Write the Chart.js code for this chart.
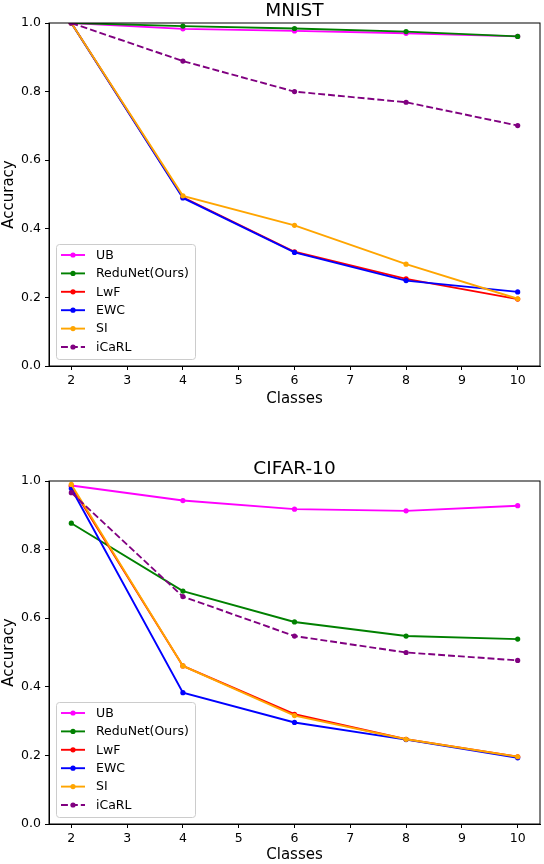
<!DOCTYPE html>
<html>
<head>
<meta charset="utf-8">
<script src="https://cdn.jsdelivr.net/npm/chart.js@4.4.0/dist/chart.umd.min.js"></script>
<style>
  html, body { margin: 0; padding: 0; background: #fff; }
  #wrap { width: 544px; height: 864px; position: relative; }
  canvas { display: block; }
</style>
</head>
<body>
<div id="wrap">
  <canvas id="mnist" width="544" height="432"></canvas>
  <canvas id="cifar" width="544" height="432"></canvas>
</div>
<script>
// data
const classes = [2, 4, 6, 8, 10];
const xTicks = [2, 3, 4, 5, 6, 7, 8, 9, 10];
const yTicks = [0, 0.2, 0.4, 0.6, 0.8, 1.0];
const methods = ['UB', 'ReduNet(Ours)', 'LwF', 'EWC', 'SI', 'iCaRL'];

const mnistUB      = [1.0, 0.983, 0.977, 0.970, 0.961];
const mnistReduNet = [1.0, 0.991, 0.984, 0.975, 0.961];
const mnistLwF     = [1.0, 0.492, 0.333, 0.254, 0.195];
const mnistEWC     = [1.0, 0.490, 0.331, 0.249, 0.216];
const mnistSI      = [1.0, 0.496, 0.410, 0.297, 0.196];
const mnistICaRL   = [1.0, 0.889, 0.800, 0.769, 0.701];

const cifarUB      = [0.987, 0.943, 0.918, 0.913, 0.928];
const cifarReduNet = [0.877, 0.679, 0.589, 0.548, 0.539];
const cifarLwF     = [0.985, 0.461, 0.320, 0.247, 0.196];
const cifarEWC     = [0.978, 0.383, 0.296, 0.246, 0.193];
const cifarSI      = [0.990, 0.461, 0.316, 0.247, 0.196];
const cifarICaRL   = [0.966, 0.663, 0.548, 0.500, 0.477];

const colors = ['#ff00ff', '#008000', '#ff0000', '#0000ff', '#ffa500', '#800080'];
const FONT = "'DejaVu Sans', sans-serif";

function makeDatasets(series) {
    return series.map(function (vals, i) {
        return {
            label: methods[i],
            data: vals.map(function (v, j) { return {x: classes[j], y: v}; }),
            borderColor: colors[i],
            backgroundColor: colors[i],
            borderWidth: 1.9,
            borderDash: methods[i] === 'iCaRL' ? [6.9, 3] : [],
            pointRadius: 2.6,
            pointBorderWidth: 0,
            pointBackgroundColor: colors[i],
            tension: 0,
            order: series.length - i  // later series on top, like matplotlib
        };
    });
}

// black box round the plot + panel title
const framePlugin = {
    id: 'frame',
    afterDraw(chart, args, opts) {
        const a = chart.chartArea;
        const ctx = chart.ctx;
        ctx.save();
        ctx.strokeStyle = '#000';
        ctx.lineWidth = 1;
        ctx.strokeRect(a.left, a.top, a.right - a.left, a.bottom - a.top);
        ctx.fillStyle = '#000';
        ctx.font = '18.5px ' + FONT;
        ctx.textAlign = 'center';
        ctx.textBaseline = 'alphabetic';
        ctx.fillText(opts.text, (a.left + a.right) / 2, a.top - 7);
        ctx.restore();
    }
};

// matplotlib style legend in the lower left corner
const boxLegend = {
    id: 'boxLegend',
    afterDraw(chart) {
        const a = chart.chartArea;
        const ctx = chart.ctx;
        const w = 139, h = 115;
        const x0 = a.left + 7, y0 = a.bottom - 7 - h;
        ctx.save();
        ctx.fillStyle = 'rgba(255,255,255,0.8)';
        ctx.strokeStyle = '#cccccc';
        ctx.lineWidth = 1;
        ctx.beginPath();
        ctx.roundRect(x0 + 0.5, y0 + 0.5, w, h, 3);
        ctx.fill();
        ctx.stroke();
        ctx.font = '12.5px ' + FONT;
        ctx.textBaseline = 'middle';
        chart.data.datasets.forEach(function (ds, i) {
            const y = y0 + 11 + i * 18.4;
            ctx.strokeStyle = ds.borderColor;
            ctx.lineWidth = ds.borderWidth;
            ctx.setLineDash(ds.borderDash);
            ctx.beginPath();
            ctx.moveTo(x0 + 5, y);
            ctx.lineTo(x0 + 29, y);
            ctx.stroke();
            ctx.setLineDash([]);
            ctx.fillStyle = ds.borderColor;
            ctx.beginPath();
            ctx.arc(x0 + 17, y, 2.6, 0, Math.PI * 2);
            ctx.fill();
            ctx.fillStyle = '#000';
            ctx.fillText(ds.label, x0 + 40, y + 0.5);
        });
        ctx.restore();
    }
};

function makeChart(id, title, series, pad, xHeight) {
    return new Chart(document.getElementById(id), {
        type: 'line',
        data: { datasets: makeDatasets(series) },
        options: {
            responsive: false,
            animation: false,
            layout: { padding: pad },
            plugins: {
                legend: { display: false },
                tooltip: { enabled: false },
                frame: { text: title }
            },
            scales: {
                x: {
                    type: 'linear',
                    min: 1.6,
                    max: 10.4,
                    afterBuildTicks: function (scale) {
                        scale.ticks = xTicks.map(function (v) { return {value: v}; });
                    },
                    afterFit: function (scale) { scale.height = xHeight; },
                    grid: { display: true, drawOnChartArea: false, tickLength: 4, tickColor: '#000' },
                    border: { display: true, color: '#000' },
                    ticks: { color: '#000', font: { family: FONT, size: 12.5 }, padding: 3, maxRotation: 0 },
                    title: { display: true, text: 'Classes', color: '#000', font: { family: FONT, size: 15 }, padding: 0 }
                },
                y: {
                    min: 0,
                    max: 1,
                    afterBuildTicks: function (scale) {
                        scale.ticks = yTicks.map(function (v) { return {value: v}; });
                    },
                    afterFit: function (scale) { scale.width = 49; },
                    grid: { display: true, drawOnChartArea: false, tickLength: 4, tickColor: '#000' },
                    border: { display: true, color: '#000' },
                    ticks: {
                        color: '#000',
                        font: { family: FONT, size: 12.5 },
                        padding: 4,
                        callback: function (v) { return v.toFixed(1); }
                    },
                    title: { display: true, text: 'Accuracy', color: '#000', font: { family: FONT, size: 15 }, padding: 0 }
                }
            }
        },
        plugins: [framePlugin, boxLegend]
    });
}

const mnistChart = makeChart('mnist', 'MNIST',
    [mnistUB, mnistReduNet, mnistLwF, mnistEWC, mnistSI, mnistICaRL],
    { top: 23, right: 3, bottom: 24, left: 0 }, 42);

const cifarChart = makeChart('cifar', 'CIFAR-10',
    [cifarUB, cifarReduNet, cifarLwF, cifarEWC, cifarSI, cifarICaRL],
    { top: 49, right: 3, bottom: 0, left: 0 }, 40);
</script>
</body>
</html>
